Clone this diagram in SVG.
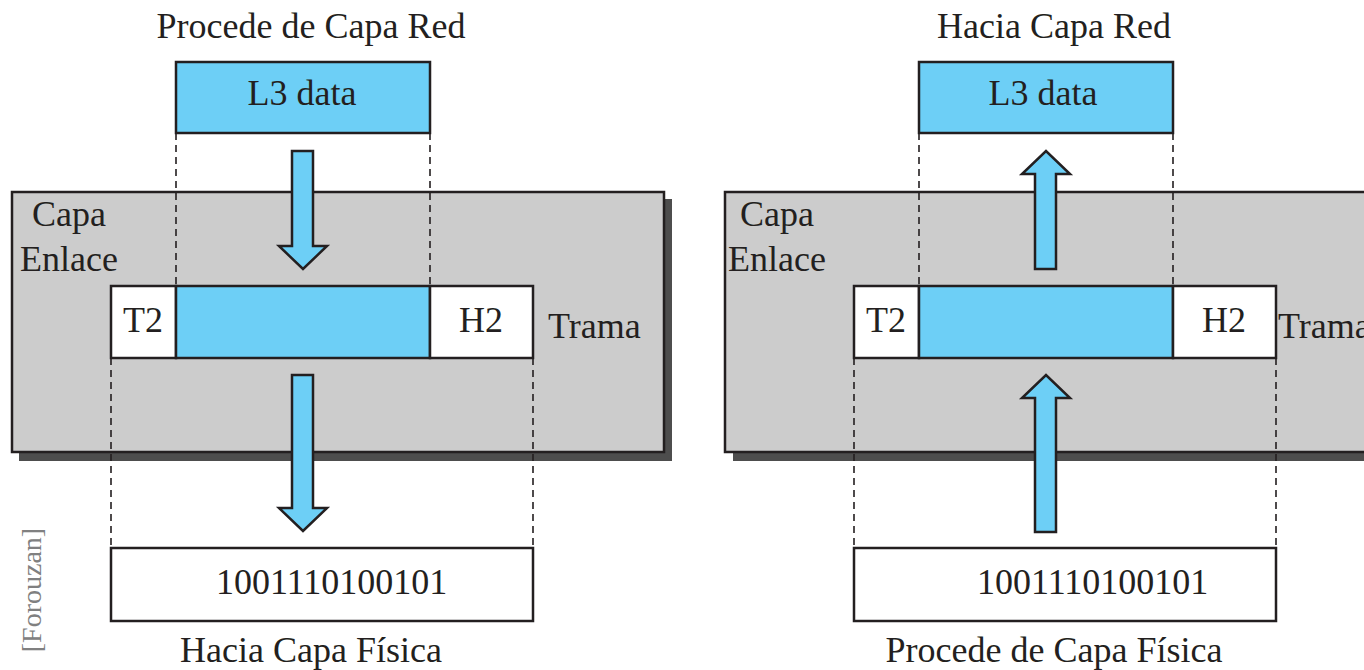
<svg xmlns="http://www.w3.org/2000/svg" width="1364" height="670" viewBox="0 0 1364 670">
<style>
.t{font-family:"Liberation Serif","Times New Roman",serif;font-size:36px;fill:#231f20}
.box{stroke:#231f20;stroke-width:2.5}
.gray{fill:#cccccc}
.shadow{fill:#4d4d4d}
.blue{fill:#6dcff6}
.white{fill:#ffffff}
.dash{stroke:#231f20;stroke-width:1.6;stroke-dasharray:7 5;fill:none}
.arrow{fill:#6dcff6;stroke:#231f20;stroke-width:2.5;stroke-linejoin:miter}
</style>
<rect width="1364" height="670" fill="#ffffff"/>

<g id="left-panel">
  <g id="left-link-layer">
    <rect class="shadow" x="19" y="199" width="653" height="262"/>
    <rect class="gray box" x="12" y="192" width="652" height="260"/>
    <text class="t" x="32" y="226">Capa</text>
    <text class="t" x="20" y="271">Enlace</text>
  </g>
  <g id="left-l3">
    <rect class="blue box" x="176" y="62" width="254" height="71"/>
    <text class="t" x="302" y="105" text-anchor="middle">L3 data</text>
  </g>
  <g id="left-frame">
    <rect class="white box" x="111" y="286" width="65" height="72"/>
    <rect class="blue box" x="176" y="286" width="254" height="72"/>
    <rect class="white box" x="430" y="286" width="103" height="72"/>
    <text class="t" x="143" y="332" text-anchor="middle">T2</text>
    <text class="t" x="481" y="332" text-anchor="middle">H2</text>
    <text class="t" x="548" y="338">Trama</text>
  </g>
  <g id="left-bits">
    <rect class="white box" x="111" y="548" width="422" height="73"/>
    <text class="t" x="216" y="594">1001110100101</text>
  </g>
  <text class="t" x="311" y="38" text-anchor="middle">Procede de Capa Red</text>
  <text class="t" x="311" y="662" text-anchor="middle">Hacia Capa Física</text>
</g>

<g id="right-panel">
  <g id="right-link-layer">
    <rect class="shadow" x="733" y="199" width="650" height="262"/>
    <rect class="gray box" x="725" y="192" width="650" height="260"/>
    <text class="t" x="740" y="226">Capa</text>
    <text class="t" x="728" y="271">Enlace</text>
  </g>
  <g id="right-l3">
    <rect class="blue box" x="919" y="62" width="254" height="71"/>
    <text class="t" x="1043" y="105" text-anchor="middle">L3 data</text>
  </g>
  <g id="right-frame">
    <rect class="white box" x="854" y="286" width="65" height="72"/>
    <rect class="blue box" x="919" y="286" width="254" height="72"/>
    <rect class="white box" x="1173" y="286" width="103" height="72"/>
    <text class="t" x="886" y="332" text-anchor="middle">T2</text>
    <text class="t" x="1224" y="332" text-anchor="middle">H2</text>
    <text class="t" x="1278" y="338">Trama</text>
  </g>
  <g id="right-bits">
    <rect class="white box" x="854" y="548" width="422" height="73"/>
    <text class="t" x="977" y="594">1001110100101</text>
  </g>
  <text class="t" x="1054" y="38" text-anchor="middle">Hacia Capa Red</text>
  <text class="t" x="1054" y="662" text-anchor="middle">Procede de Capa Física</text>
</g>

<g id="connectors">
  <path class="dash" d="M176 133V286M430 133V286M111 358V548M533 358V548"/>
  <path class="dash" d="M919 133V286M1173 133V286M854 358V548M1276 358V548"/>
  <path class="arrow" d="M292 151H313V246H327L303 269L279 246H292Z"/>
  <path class="arrow" d="M292 375H313V508H327L303 531L279 508H292Z"/>
  <path class="arrow" d="M1035 269H1056V174H1070L1046 151L1022 174H1035Z"/>
  <path class="arrow" d="M1035 532H1056V398H1070L1046 375L1022 398H1035Z"/>
</g>

<text x="41" y="590" transform="rotate(-90 41 590)" text-anchor="middle" font-family="Liberation Serif, Times New Roman, serif" font-size="28" fill="#808080">[Forouzan]</text>
</svg>
